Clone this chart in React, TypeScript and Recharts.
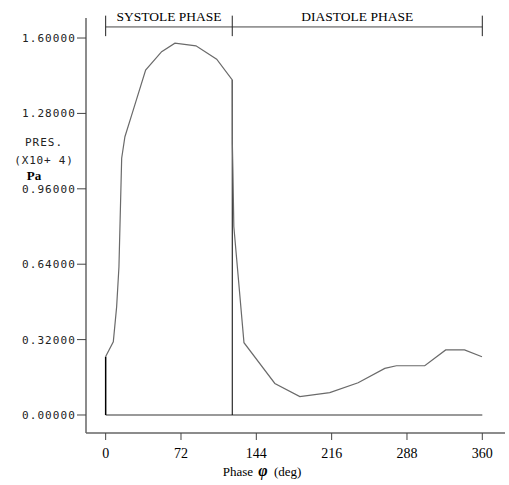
import React from "react";
import { LineChart, Line, XAxis, YAxis, ReferenceLine, Customized } from "recharts";

const phaseDeg = [0, 7.3, 10.5, 12.7, 15.3, 18.4, 26.4, 38.2, 53.5, 66.2, 86.3, 106.1, 121, 121.1, 121.6, 122.5, 132.2, 161.7, 185.6, 214.2, 241.3, 266.8, 277.9, 305, 325, 343, 359.7];
const pressure = [0.248, 0.311, 0.46, 0.629, 1.09, 1.181, 1.295, 1.464, 1.542, 1.578, 1.567, 1.51, 1.422, 1.15, 1.04, 0.8, 0.307, 0.134, 0.078, 0.095, 0.137, 0.198, 0.209, 0.209, 0.276, 0.276, 0.247];
const xTicks = [0, 72, 144, 216, 288, 360];
const yTicks = [0, 0.32, 0.64, 0.96, 1.28, 1.6];
const phaseBounds = [0, 121, 360];
const phaseNames = ["SYSTOLE PHASE", "DIASTOLE PHASE"];
const bracketLevel = 1.647;
const bracketTickLow = 1.608;
const bracketTickHigh = 1.695;
const peakAtSplit = 1.422;
const startValue = 0.248;

const data = phaseDeg.map((p, i) => ({ phase: p, pressure: pressure[i] }));

const serif = "'Liberation Serif', 'Times New Roman', serif";
const mono = "'DejaVu Sans Mono', monospace";

const LeftTitle = () => (
  <g>
    <text x={44} y={146} textAnchor="middle" fontFamily={mono} fontSize={11} letterSpacing={1} fill="#222">PRES.</text>
    <text x={44} y={164} textAnchor="middle" fontFamily={mono} fontSize={11} letterSpacing={0.8} fill="#222">(X10+ 4)</text>
    <text x={34} y={180} textAnchor="middle" fontFamily={serif} fontSize={13} fontWeight="bold" fill="#000">Pa</text>
  </g>
);

const XTitle = () => (
  <g fontFamily={serif} fill="#000">
    <text x={253} y={476} textAnchor="end" fontSize={13}>Phase</text>
    <text x={263} y={476} textAnchor="middle" fontSize={16} fontWeight="bold" fontStyle="italic">φ</text>
    <text x={274} y={476} textAnchor="start" fontSize={13}>(deg)</text>
  </g>
);

export default function App() {
  return (
    <div style={{ position: "absolute", left: 0, top: 0 }}>
      <LineChart width={509} height={485} data={data} margin={{ top: 18, right: 4, bottom: 0, left: 0 }}>
        <XAxis
          type="number"
          dataKey="phase"
          domain={[-18.8, 381.7]}
          ticks={xTicks}
          allowDataOverflow
          height={52}
          axisLine={{ stroke: "#666", strokeWidth: 1.5 }}
          tickLine={{ stroke: "#444" }}
          tickSize={7}
          tickMargin={8}
          tick={{ fontFamily: serif, fontSize: 14, fill: "#000" }}
        />
        <YAxis
          type="number"
          domain={[-0.0764, 1.685]}
          ticks={yTicks}
          allowDataOverflow
          width={86}
          axisLine={{ stroke: "#666", strokeWidth: 1.5 }}
          tickLine={{ stroke: "#444" }}
          tickSize={9}
          tickMargin={1}
          tickFormatter={(v: number) => v.toFixed(5)}
          tick={{ fontFamily: mono, fontSize: 11, fill: "#222", letterSpacing: 1.1 }}
        />
        <ReferenceLine segment={[{ x: phaseBounds[0], y: 0 }, { x: phaseBounds[2], y: 0 }]} stroke="#777" strokeWidth={1.5} ifOverflow="visible" />
        <ReferenceLine segment={[{ x: phaseBounds[0], y: 0 }, { x: phaseBounds[0], y: startValue }]} stroke="#000" strokeWidth={1.5} ifOverflow="visible" />
        <ReferenceLine segment={[{ x: phaseBounds[1], y: 0 }, { x: phaseBounds[1], y: peakAtSplit }]} stroke="#000" strokeWidth={1} ifOverflow="visible" />
        <ReferenceLine
          segment={[{ x: phaseBounds[0], y: bracketLevel }, { x: phaseBounds[1], y: bracketLevel }]}
          stroke="#444"
          ifOverflow="visible"
          label={{ value: phaseNames[0], position: "top", offset: 6, fontFamily: serif, fontSize: 13.5, fill: "#000" }}
        />
        <ReferenceLine
          segment={[{ x: phaseBounds[1], y: bracketLevel }, { x: phaseBounds[2], y: bracketLevel }]}
          stroke="#444"
          ifOverflow="visible"
          label={{ value: phaseNames[1], position: "top", offset: 6, fontFamily: serif, fontSize: 13.5, fill: "#000" }}
        />
        {phaseBounds.map((b) => (
          <ReferenceLine key={b} segment={[{ x: b, y: bracketTickLow }, { x: b, y: bracketTickHigh }]} stroke="#222" ifOverflow="visible" />
        ))}
        <Line type="linear" dataKey="pressure" stroke="#6a6a6a" strokeWidth={1.2} dot={false} isAnimationActive={false} />
        <Customized component={LeftTitle} />
        <Customized component={XTitle} />
      </LineChart>
    </div>
  );
}
